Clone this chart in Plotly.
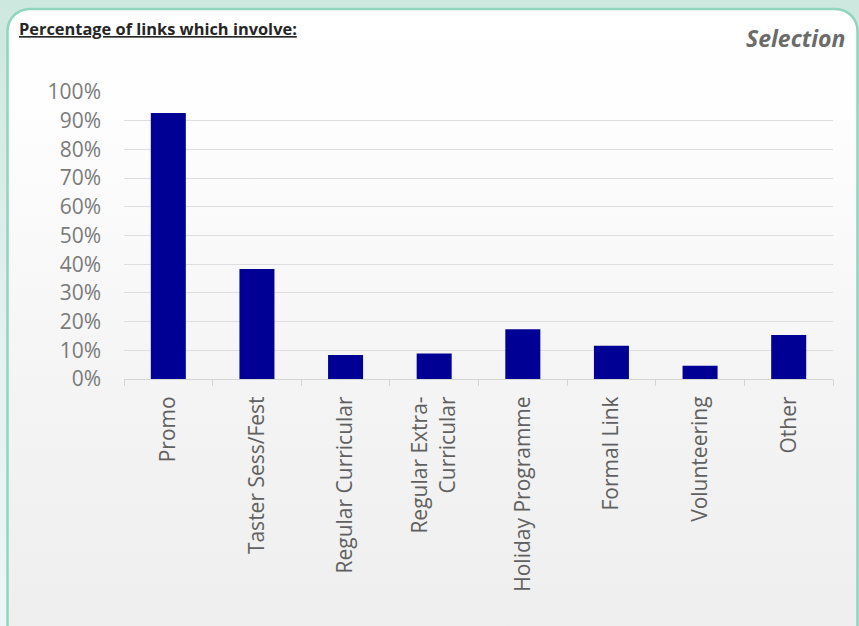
import plotly.graph_objects as go
from urllib.parse import quote

categories = ["Promo", "Taster Sess/Fest", "Regular Curricular", "Regular Extra-<br>Curricular",
              "Holiday Programme", "Formal Link", "Volunteering", "Other"]
values = [92.7, 38.3, 8.4, 8.9, 17.3, 11.6, 4.6, 15.3]
y_ticks = list(range(0, 101, 10))
y_tick_labels = [f"{v}%" for v in y_ticks]

W, H = 859, 626
L, R, T, B = 124, 26, 92, 247
PW, PH = W - L - R, H - T - B

svg = (
    "<svg xmlns='http://www.w3.org/2000/svg' width='859' height='626' viewBox='0 0 859 626' preserveAspectRatio='none'>"
    "<defs>"
    "<linearGradient id='o' x1='0' y1='0' x2='0' y2='1'>"
    "<stop offset='0' stop-color='#cde8de'/><stop offset='0.5' stop-color='#e2f1ee'/><stop offset='1' stop-color='#eef5f8'/></linearGradient>"
    "<linearGradient id='p' x1='0' y1='0' x2='0' y2='1'>"
    "<stop offset='0' stop-color='#ffffff'/><stop offset='0.2' stop-color='#fdfdfd'/>"
    "<stop offset='0.6' stop-color='#f4f4f4'/><stop offset='1' stop-color='#eeeeee'/></linearGradient>"
    "</defs>"
    "<rect width='859' height='626' fill='url(#o)'/>"
    "<rect x='7.5' y='9' width='850' height='640' rx='22' ry='22' fill='url(#p)' stroke='#8fd5bf' stroke-width='2.5'/>"
    "</svg>"
)
bg_src = "data:image/svg+xml;charset=utf-8," + quote(svg)

fig = go.Figure(
    go.Bar(
        x=categories,
        y=values,
        marker=dict(color="#000094", line=dict(width=0)),
        hoverinfo="skip",
    )
)

fig.update_layout(
    width=W,
    height=H,
    margin=dict(l=L, r=R, t=T, b=B, pad=0),
    paper_bgcolor="#eef6f4",
    plot_bgcolor="rgba(0,0,0,0)",
    bargap=0.605,
    showlegend=False,
    font=dict(family="Open Sans", color="#595959"),
    images=[
        dict(
            source=bg_src,
            xref="paper", yref="paper",
            x=-L / PW, y=1 + T / PH,
            sizex=W / PW, sizey=H / PH,
            xanchor="left", yanchor="top",
            sizing="stretch",
            layer="below",
        )
    ],
    annotations=[
        dict(
            text="<b><u>Percentage of links which involve:</u></b>",
            xref="paper", yref="paper",
            x=(17 - L) / PW, y=1 + (T - 28) / PH,
            xanchor="left", yanchor="middle",
            showarrow=False,
            font=dict(family="Open Sans", size=16.4, color="#262626"),
        ),
        dict(
            text="<b><i>Selection</i></b>",
            xref="paper", yref="paper",
            x=(847 - L) / PW, y=1 + (T - 38) / PH,
            xanchor="right", yanchor="middle",
            showarrow=False,
            font=dict(family="Open Sans", size=23, color="#6b6b6b"),
        ),
    ],
)

fig.update_xaxes(
    type="category",
    tickangle=-90,
    tickson="boundaries",
    ticks="outside",
    ticklen=6,
    tickcolor="#d4d4d4",
    tickwidth=1,
    showline=True,
    linecolor="#d4d4d4",
    linewidth=1,
    showgrid=False,
    tickfont=dict(family="Open Sans", size=21, color="#606060"),
    ticklabelstandoff=8,
)

fig.update_yaxes(
    range=[0, 100],
    tickmode="array",
    tickvals=y_ticks,
    ticktext=y_tick_labels,
    showgrid=True,
    gridcolor="#dedede",
    gridwidth=1,
    zeroline=False,
    showline=False,
    ticks="",
    tickfont=dict(family="Open Sans", size=21, color="#7a7a7a"),
    ticklabelstandoff=22,
)

fig.write_html(
    "out.html",
    config={"displayModeBar": False},
    post_script="document.body.style.margin='0';document.body.style.overflow='hidden';",
)
